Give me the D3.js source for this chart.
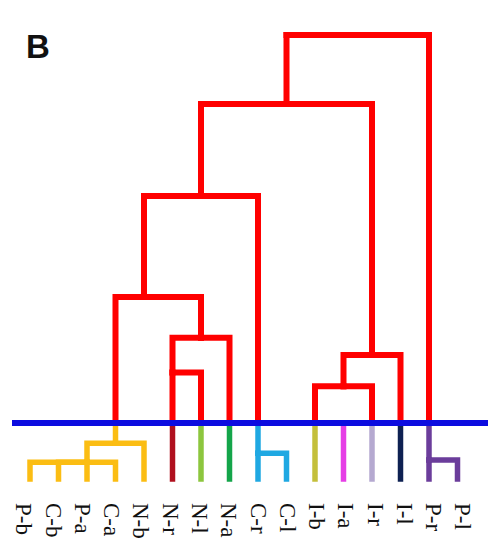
<!DOCTYPE html>
<html>
<head>
<meta charset="utf-8">
<script src="https://cdn.jsdelivr.net/npm/d3@7"></script>
<style>
  html, body { margin:0; padding:0; background:#fff; }
  svg { display:block; }
</style>
</head>
<body>
<div id="chart"></div>
<script>
// Dendrogramm (Panel B) – Cluster über der Basislinie, Untercluster darunter
const leaves = ["P-b","C-b","P-a","C-a","N-b","N-r","N-l","N-a","C-r","C-l","I-b","I-a","I-r","I-l","P-r","P-l"];
const leafColors = ["#fbbd13","#fbbd13","#fbbd13","#fbbd13","#fbbd13","#b0101e","#8cc63e","#14a54a",
                    "#1fa8e2","#1fa8e2","#c4bf3b","#e63ee6","#b5a9d0","#0e2152","#6b3d9b","#6b3d9b"];

// obere Verknüpfungen: slot = Ansatzpunkt (Blatt-Index), dist = Fusionsniveau (0..1)
const upperNodes = [
  { id:"A", slot:5,  dist:0.13,  kids:["s5","s6"] },
  { id:"B", slot:6,  dist:0.22,  kids:["A","s7"] },
  { id:"C", slot:4,  dist:0.325, kids:["s3","B"] },
  { id:"D", slot:6,  dist:0.585, kids:["C","s8"] },
  { id:"E", slot:11, dist:0.095, kids:["s10","s12"] },
  { id:"F", slot:12, dist:0.175, kids:["E","s13"] },
  { id:"G", slot:9,  dist:0.822, kids:["D","F"] },
  { id:"H", slot:11, dist:1.0,   kids:["G","s14"] }
];

// untere Teilbäume (Tiefe 0 = Basislinie, 1 = Blattende)
const lowerNodes = [
  { id:"y1", slot:3,  depth:0.36, kids:["y2","s4"], root:true },
  { id:"y2", slot:2,  depth:0.70, kids:["s0","s1","s2","s3"] },
  { id:"c1", slot:8,  depth:0.54, kids:["s8","s9"], root:true },
  { id:"p1", slot:14, depth:0.66, kids:["s14","s15"], root:true }
];

const W = 498, H = 550;
const svg = d3.select('#chart').append('svg')
  .attr('width', W).attr('height', H);

const slots = d3.range(leaves.length);
const x    = d3.scalePoint().domain(slots).range([30, 457.5]);
const xLab = d3.scalePoint().domain(slots).range([24, 463]);
const y    = d3.scaleLinear().domain([0, 1]).range([423, 35]);
const yLow = d3.scaleLinear().domain([0, 1]).range([423, 479]);

const upById = new Map(upperNodes.map(d => [d.id, d]));
const lowById = new Map(lowerNodes.map(d => [d.id, d]));
const slotOf = k => +k.slice(1);

// --- untere Stiele / Teilbäume
const inCluster = new Set();
lowerNodes.forEach(n => n.kids.forEach(k => { if (k[0]==='s') inCluster.add(slotOf(k)); }));

const low = svg.append('g')
  .attr('fill','none').attr('stroke-width',5.5)
  .attr('stroke-linecap','square').attr('stroke-linejoin','miter');

// Einzelblätter
slots.filter(i => !inCluster.has(i)).forEach(i => {
  low.append('path')
    .attr('d', `M${x(i)},${yLow(0)}V${yLow(1)}`)
    .attr('stroke', leafColors[i]);
});
// Teilbäume
lowerNodes.forEach(n => {
  const col = leafColors[n.slot];
  if (n.root) {
    low.append('path')
      .attr('d', `M${x(n.slot)},${yLow(0)}V${yLow(n.depth)}`)
      .attr('stroke', col);
  }
  n.kids.forEach(k => {
    const cs = k[0]==='s' ? slotOf(k) : lowById.get(k).slot;
    const cd = k[0]==='s' ? 1 : lowById.get(k).depth;
    low.append('path')
      .attr('d', `M${x(n.slot)},${yLow(n.depth)}H${x(cs)}V${yLow(cd)}`)
      .attr('stroke', col);
  });
});

// --- obere Verknüpfungen (rot)
const up = svg.append('g')
  .attr('fill','none').attr('stroke','#ff0000').attr('stroke-width',6)
  .attr('stroke-linecap','square').attr('stroke-linejoin','miter');

upperNodes.forEach(n => {
  n.kids.forEach(k => {
    const c = upById.get(k);
    const cs = c ? c.slot : slotOf(k);
    const cd = c ? c.dist : 0;
    up.append('path')
      .attr('d', `M${x(n.slot)},${y(n.dist)}H${x(cs)}V${y(cd)}`);
  });
});
// Querbalken der Wurzel sauber über beide Kinder
const root = upperNodes[upperNodes.length-1];
const rootXs = root.kids.map(k => upById.get(k) ? upById.get(k).slot : slotOf(k));
up.append('path')
  .attr('d', `M${x(d3.min(rootXs))},${y(root.dist)}H${x(d3.max(rootXs))}`);

// --- Basislinie
svg.append('line')
  .attr('x1', 12).attr('x2', 488)
  .attr('y1', y(0)).attr('y2', y(0))
  .attr('stroke', '#0c0ce0').attr('stroke-width', 6);

// --- Beschriftungen (90° gedreht)
svg.append('g').selectAll('text')
  .data(leaves)
  .join('text')
    .attr('transform', (d,i) => `translate(${xLab(i)},503) rotate(90)`)
    .attr('dy', '0.33em')
    .attr('font-family', '"Liberation Serif", "Times New Roman", serif')
    .attr('font-size', 23)
    .attr('fill', '#111')
    .text(d => d);

// Panel-Buchstabe
svg.append('text')
  .attr('x', 26).attr('y', 58)
  .attr('font-family', '"Liberation Sans", Arial, sans-serif')
  .attr('font-weight', 700).attr('font-size', 33)
  .attr('fill', '#111')
  .text('B');
</script>
</body>
</html>
